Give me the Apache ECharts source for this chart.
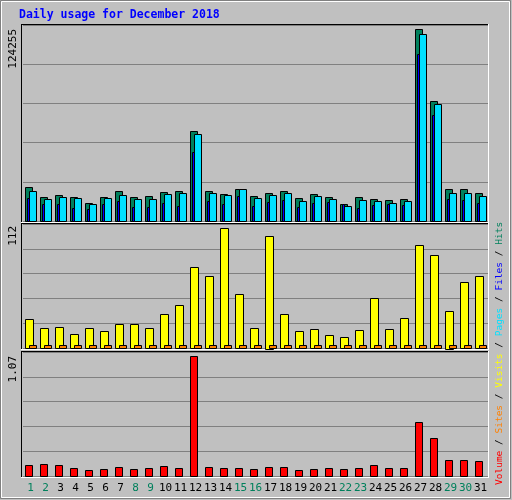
<!DOCTYPE html>
<html>
<head>
<meta charset="utf-8">
<script src="https://cdn.jsdelivr.net/npm/echarts@6/dist/echarts.min.js"></script>
<style>
  html, body { margin: 0; padding: 0; background: #c0c0c0; }
  #chart { width: 512px; height: 500px; }
</style>
</head>
<body>
<div id="chart"></div>
<script>
const days = Array.from({ length: 31 }, (_, i) => String(i + 1))
const weekend = [1, 2, 8, 9, 15, 16, 22, 23, 29, 30]

const hits = [21700, 15300, 16600, 15300, 11500, 15300, 19100, 15300, 15900, 18500, 19100, 58000, 19100, 17200, 21000,
  16000, 17800, 19700, 14600, 17200, 15300, 10800, 15300, 14000, 13400, 14000, 124255, 77700, 20400, 20400, 17800]
const pages = [19700, 14000, 15300, 14600, 10800, 14600, 16600, 14000, 14000, 17200, 17800, 56000, 17800, 16600, 20400,
  14600, 16600, 17800, 12700, 15900, 14000, 9500, 13400, 12700, 11500, 12700, 121000, 75800, 17800, 17800, 15900]
const files = [14600, 10800, 10800, 8300, 7600, 10800, 12700, 8900, 8900, 11500, 9500, 44600, 12700, 10800, 15900,
  9500, 12100, 13400, 8900, 11500, 12100, 10800, 8300, 10200, 10800, 10200, 108000, 68800, 14000, 13400, 11500]
const visits = [27, 19, 20, 13, 19, 16, 22, 22, 19, 32, 40, 76, 67, 112, 50,
  19, 105, 32, 16, 18, 12, 10, 17, 47, 18, 28, 96, 87, 35, 62, 67]
const sites = [3, 3, 3, 3, 3, 3, 3, 3, 3, 3, 3, 3, 3, 3, 3,
  3, 3, 3, 3, 3, 3, 3, 3, 3, 3, 3, 3, 3, 3, 3, 3]
const volume = [0.098, 0.107, 0.098, 0.071, 0.054, 0.062, 0.080, 0.062, 0.071, 0.089, 0.071, 1.07, 0.080, 0.071, 0.071,
  0.062, 0.080, 0.080, 0.054, 0.062, 0.071, 0.062, 0.071, 0.098, 0.071, 0.071, 0.48, 0.34, 0.14, 0.14, 0.13]
const maxLabels = ['124255', '112', '1.07']

const FONT = 'DejaVu Sans Mono'
const topMax = 124255 * 196 / 192
const midMax = 112 * 124 / 120
const botMax = 1.07 * 124 / 120

// bar drawn at an x offset (px) from the category centre
function barSeries(name, data, axis, dx, w, color, z) {
  return {
    type: 'custom', name, xAxisIndex: axis, yAxisIndex: axis, z,
    data: data.map((v, i) => [i, v]),
    renderItem(params, api) {
      const top = api.coord([api.value(0), api.value(1)])
      const base = api.coord([api.value(0), 0])
      return {
        type: 'rect',
        shape: { x: Math.round(top[0] + dx) + 0.5, y: Math.round(top[1]) + 0.5, width: w, height: Math.round(base[1] - top[1]) },
        style: { fill: color, stroke: '#000', lineWidth: 1 }
      }
    }
  }
}

const grids = [
  { left: 23, right: 24, top: 25, height: 196 },
  { left: 23, right: 24, top: 224, height: 124 },
  { left: 23, right: 24, top: 352, height: 124 }
]
const maxes = [topMax, midMax, botMax]

const xAxes = grids.map((g, i) => ({
  type: 'category', gridIndex: i, data: days,
  axisLine: { show: false }, axisTick: { show: false },
  axisLabel: i === 2 ? {
    show: true, interval: 0, fontFamily: FONT, fontSize: 11, margin: 7,
    formatter: v => weekend.includes(+v) ? '{w|' + v + '}' : '{d|' + v + '}',
    rich: { w: { color: '#00805c', fontFamily: FONT, fontSize: 11 }, d: { color: '#000', fontFamily: FONT, fontSize: 11 } }
  } : { show: false }
}))
const yAxes = grids.map((g, i) => ({
  type: 'value', gridIndex: i, min: 0, max: maxes[i], interval: maxes[i] / 5,
  axisLine: { show: false }, axisTick: { show: false }, axisLabel: { show: false },
  splitLine: { lineStyle: { color: '#808080', width: 1 } }
}))

function panelBorder(g) {
  const x1 = g.left - 2, x2 = 512 - g.right, y1 = g.top - 1, y2 = g.top + g.height + 1
  return [
    { type: 'line', shape: { x1, y1: y1 + 0.5, x2, y2: y1 + 0.5 }, style: { stroke: '#000', lineWidth: 1 } },
    { type: 'line', shape: { x1: x1 + 0.5, y1, x2: x1 + 0.5, y2 }, style: { stroke: '#000', lineWidth: 1 } },
    { type: 'line', shape: { x1, y1: y2 + 0.5, x2: x2 + 1, y2: y2 + 0.5 }, style: { stroke: '#fff', lineWidth: 1 } },
    { type: 'line', shape: { x1: x2 + 0.5, y1, x2: x2 + 0.5, y2: y2 + 1 }, style: { stroke: '#fff', lineWidth: 1 } }
  ]
}

const labelY = [29, 226, 356]
const lf = '9.5px "DejaVu Sans Mono"'
const graphics = [
  { type: 'rect', shape: { x: 0.5, y: 0.5, width: 510, height: 498 }, style: { fill: 'none', stroke: '#808080', lineWidth: 1 }, z: 100 },
  { type: 'rect', shape: { x: 1.5, y: 1.5, width: 508, height: 496 }, style: { fill: 'none', stroke: '#fff', lineWidth: 1 }, z: 100 },
  { type: 'text', x: 19, y: 9, style: { text: 'Daily usage for December 2018', fill: '#0000ff', font: 'bold 11.5px "DejaVu Sans Mono"' } },
  ...grids.flatMap(panelBorder),
  ...maxLabels.map((t, i) => ({
    type: 'text', x: 8, y: labelY[i], rotation: Math.PI / 2,
    style: { text: t, fill: '#000', font: '11px "DejaVu Sans Mono"', align: 'right', verticalAlign: 'top' }
  })),
  {
    type: 'text', x: 495, y: 485, rotation: Math.PI / 2,
    style: {
      text: '{r|Volume} / {o|Sites} / {y|Visits} / {c|Pages} / {b|Files} / {g|Hits}',
      align: 'left', verticalAlign: 'top', font: lf, fill: '#000',
      rich: {
        r: { fill: '#ff0000', font: lf },
        o: { fill: '#ff8000', font: lf },
        y: { fill: '#ffff00', font: lf },
        c: { fill: '#00e0ff', font: lf },
        b: { fill: '#0000ff', font: lf },
        g: { fill: '#00805c', font: lf }
      }
    }
  }
]

const chart = echarts.init(document.getElementById('chart'))
chart.setOption({
  backgroundColor: '#c0c0c0',
  animation: false,
  grid: grids,
  xAxis: xAxes,
  yAxis: yAxes,
  graphic: graphics,
  series: [
    barSeries('Hits', hits, 0, -6, 7, '#00805c', 1),
    barSeries('Pages', pages, 0, -2, 7, '#00e0ff', 2),
    barSeries('Files', files, 0, -4, 2, '#0000ff', 3),
    barSeries('Visits', visits, 1, -6, 8, '#ffff00', 1),
    barSeries('Sites', sites, 1, -2, 7, '#ff8000', 2),
    barSeries('Volume', volume, 2, -6, 7, '#ff0000', 1)
  ]
})
window.addEventListener('resize', () => chart.resize())
</script>
</body>
</html>
